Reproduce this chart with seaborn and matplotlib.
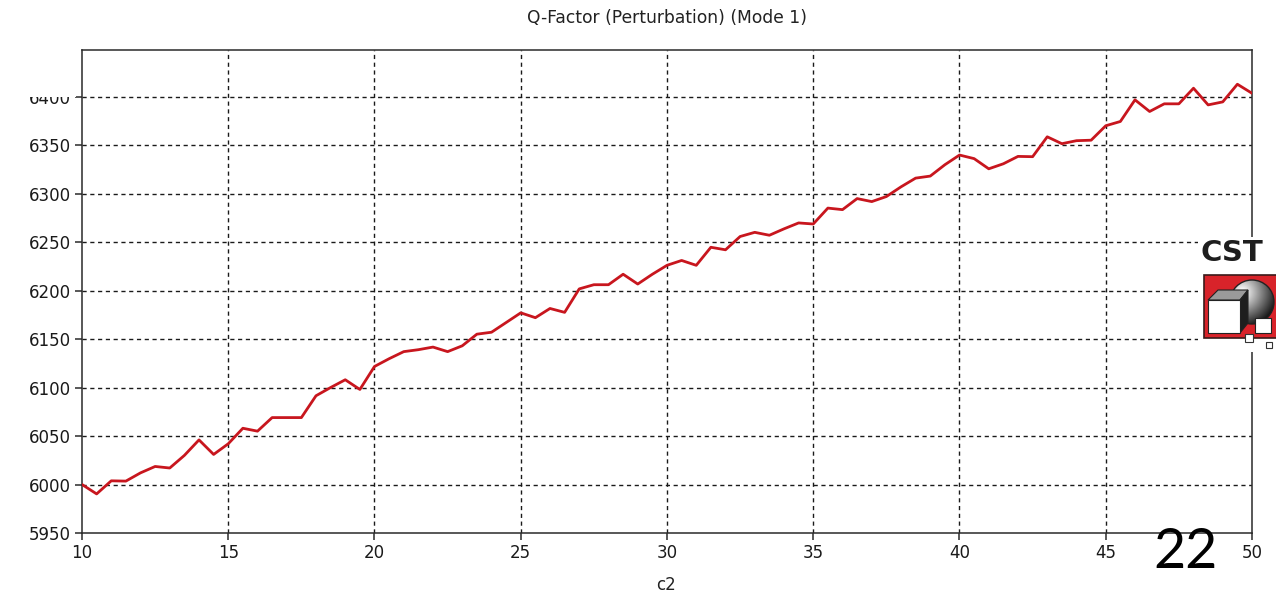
import numpy as np
import pandas as pd
import matplotlib
matplotlib.use("Agg")
import matplotlib.pyplot as plt
import seaborn as sns
from matplotlib.patches import Rectangle, Circle, Polygon

# Parameter sweep c2 and the resulting Q-factor (perturbation method), mode 1
c2 = [10.0, 10.5, 11.0, 11.5, 12.0, 12.5, 13.0, 13.5, 14.0, 14.5,
      15.0, 15.5, 16.0, 16.5, 17.0, 17.5, 18.0, 18.5, 19.0, 19.5,
      20.0, 20.5, 21.0, 21.5, 22.0, 22.5, 23.0, 23.5, 24.0, 24.5,
      25.0, 25.5, 26.0, 26.5, 27.0, 27.5, 28.0, 28.5, 29.0, 29.5,
      30.0, 30.5, 31.0, 31.5, 32.0, 32.5, 33.0, 33.5, 34.0, 34.5,
      35.0, 35.5, 36.0, 36.5, 37.0, 37.5, 38.0, 38.5, 39.0, 39.5,
      40.0, 40.5, 41.0, 41.5, 42.0, 42.5, 43.0, 43.5, 44.0, 44.5,
      45.0, 45.5, 46.0, 46.5, 47.0, 47.5, 48.0, 48.5, 49.0, 49.5,
      50.0]
q_factor = [6000.0, 5990.3, 6003.8, 6003.5, 6012.0, 6018.6, 6017.0, 6030.0, 6046.0, 6031.0,
            6042.0, 6058.0, 6055.0, 6069.0, 6069.0, 6069.0, 6091.5, 6100.0, 6108.0, 6098.0,
            6121.7, 6129.7, 6137.0, 6139.0, 6141.7, 6137.0, 6143.0, 6155.0, 6157.0, 6167.0,
            6177.0, 6172.0, 6181.5, 6177.5, 6201.7, 6206.0, 6206.0, 6216.8, 6206.7, 6216.8,
            6226.0, 6231.0, 6226.0, 6244.6, 6242.0, 6255.7, 6260.0, 6257.0, 6263.6, 6269.7,
            6268.6, 6285.0, 6283.4, 6294.8, 6291.7, 6296.9, 6306.9, 6315.9, 6318.0, 6329.7,
            6339.7, 6336.0, 6325.5, 6330.7, 6338.3, 6338.0, 6358.5, 6351.4, 6354.5, 6355.0,
            6369.9, 6374.3, 6396.6, 6384.6, 6392.5, 6392.5, 6408.6, 6391.4, 6394.5, 6412.7,
            6403.4]

x_ticks = [10, 15, 20, 25, 30, 35, 40, 45, 50]
y_ticks = [5950, 6000, 6050, 6100, 6150, 6200, 6250, 6300, 6350, 6400]

title_text = "Q-Factor (Perturbation) (Mode 1)"
x_label = "c2"
page_number = "22"

sns.set_theme(style="white")
plt.rcParams["font.family"] = ["DejaVu Sans"]

W, H = 1276, 594
fig = plt.figure(figsize=(W / 100, H / 100), dpi=100)
fig.patch.set_facecolor("white")

ax = fig.add_axes([82 / W, 1 - 533 / H, (1252 - 82) / W, (533 - 50) / H])
df = pd.DataFrame({"c2": c2, "Q": q_factor})
sns.lineplot(data=df, x="c2", y="Q", ax=ax, color="#C8161E", linewidth=2.0, zorder=3)

ax.set_xlim(10, 50)
ax.set_ylim(5950, 6448)
ax.set_xticks(x_ticks)
ax.set_yticks(y_ticks)
ax.set_xticklabels([str(v) for v in x_ticks])
ax.set_yticklabels([str(v) for v in y_ticks])

grid_style = dict(color="#1a1a1a", linewidth=1.0, linestyle=(0, (3, 2.6)), zorder=1)
for yv in y_ticks[1:]:
    ax.axhline(yv, **grid_style)
for xv in x_ticks[1:-1]:
    ax.axvline(xv, **grid_style)

for side in ["left", "right", "top", "bottom"]:
    ax.spines[side].set_color("#2a2a2a")
    ax.spines[side].set_linewidth(1.1)
    ax.spines[side].set_visible(True)

ax.tick_params(axis="both", direction="out", length=5, width=1.1, color="#2a2a2a",
               labelsize=12, labelcolor="#1a1a1a", pad=3,
               left=True, bottom=True, right=False, top=False)
ax.set_xlabel("")
ax.set_ylabel("")

fig.text(667 / W, 1 - 18 / H, title_text, ha="center", va="center",
         fontsize=12.3, color="#222222")
fig.text(666 / W, 1 - 585 / H, x_label, ha="center", va="center",
         fontsize=12, color="#222222")

# Overlay in pixel coordinates for the vendor logo and page number
ov = fig.add_axes([0, 0, 1, 1], zorder=10)
ov.set_xlim(0, W)
ov.set_ylim(H, 0)
ov.axis("off")
ov.patch.set_alpha(0)

# header band hides the upper part of the topmost y label
ov.add_patch(Rectangle((10, 60), 66, 36.5, facecolor="white", edgecolor="none"))

ov.add_patch(Rectangle((1198, 237), 80, 115, facecolor="white", edgecolor="none"))
ov.text(1200, 253, "CST", ha="left", va="center", fontsize=21, fontweight="bold",
        color="#1e1e1e", family="DejaVu Sans")
ov.add_patch(Rectangle((1204, 275), 74, 63, facecolor="#D8232A", edgecolor="#3a1a1a",
                       linewidth=1.2, zorder=2))
# sphere with radial shading
cx, cy, r = 1252, 302, 22
yy, xx = np.mgrid[-1:1:160j, -1:1:160j]
shade = np.clip(1.05 - 0.6 * np.hypot(xx + 0.45, yy + 0.45), 0, 1)
sphere_clip = Circle((cx, cy), r, transform=ov.transData)
img = ov.imshow(shade, cmap="gray", vmin=0, vmax=1,
                extent=(cx - r, cx + r, cy + r, cy - r), zorder=3, aspect="auto")
img.set_clip_path(sphere_clip)
ov.add_patch(Circle((cx, cy), r, facecolor="none", edgecolor="#222222",
                    linewidth=1.0, zorder=4))
# cube
ov.add_patch(Polygon([(1208, 300), (1218, 290), (1248, 290), (1240, 300)],
                     facecolor="#9a9a9a", edgecolor="#222222", linewidth=0.8, zorder=5))
ov.add_patch(Polygon([(1240, 300), (1248, 290), (1248, 323), (1240, 333)],
                     facecolor="#1e1e1e", edgecolor="#222222", linewidth=0.8, zorder=5))
ov.add_patch(Rectangle((1208, 300), 32, 33, facecolor="white", edgecolor="#222222",
                       linewidth=0.8, zorder=5))
ov.add_patch(Rectangle((1255, 318), 16, 15, facecolor="white", edgecolor="#222222",
                       linewidth=0.8, zorder=5))
ov.add_patch(Rectangle((1245, 334), 8, 8, facecolor="white", edgecolor="#333333",
                       linewidth=0.8, zorder=5))
ov.add_patch(Rectangle((1266, 342), 6, 6, facecolor="white", edgecolor="#333333",
                       linewidth=0.8, zorder=5))

ov.text(1185, 553, page_number, ha="center", va="center", fontsize=40,
        color="black", family="Lato")

fig.savefig("out.png", dpi=100, facecolor="white")
